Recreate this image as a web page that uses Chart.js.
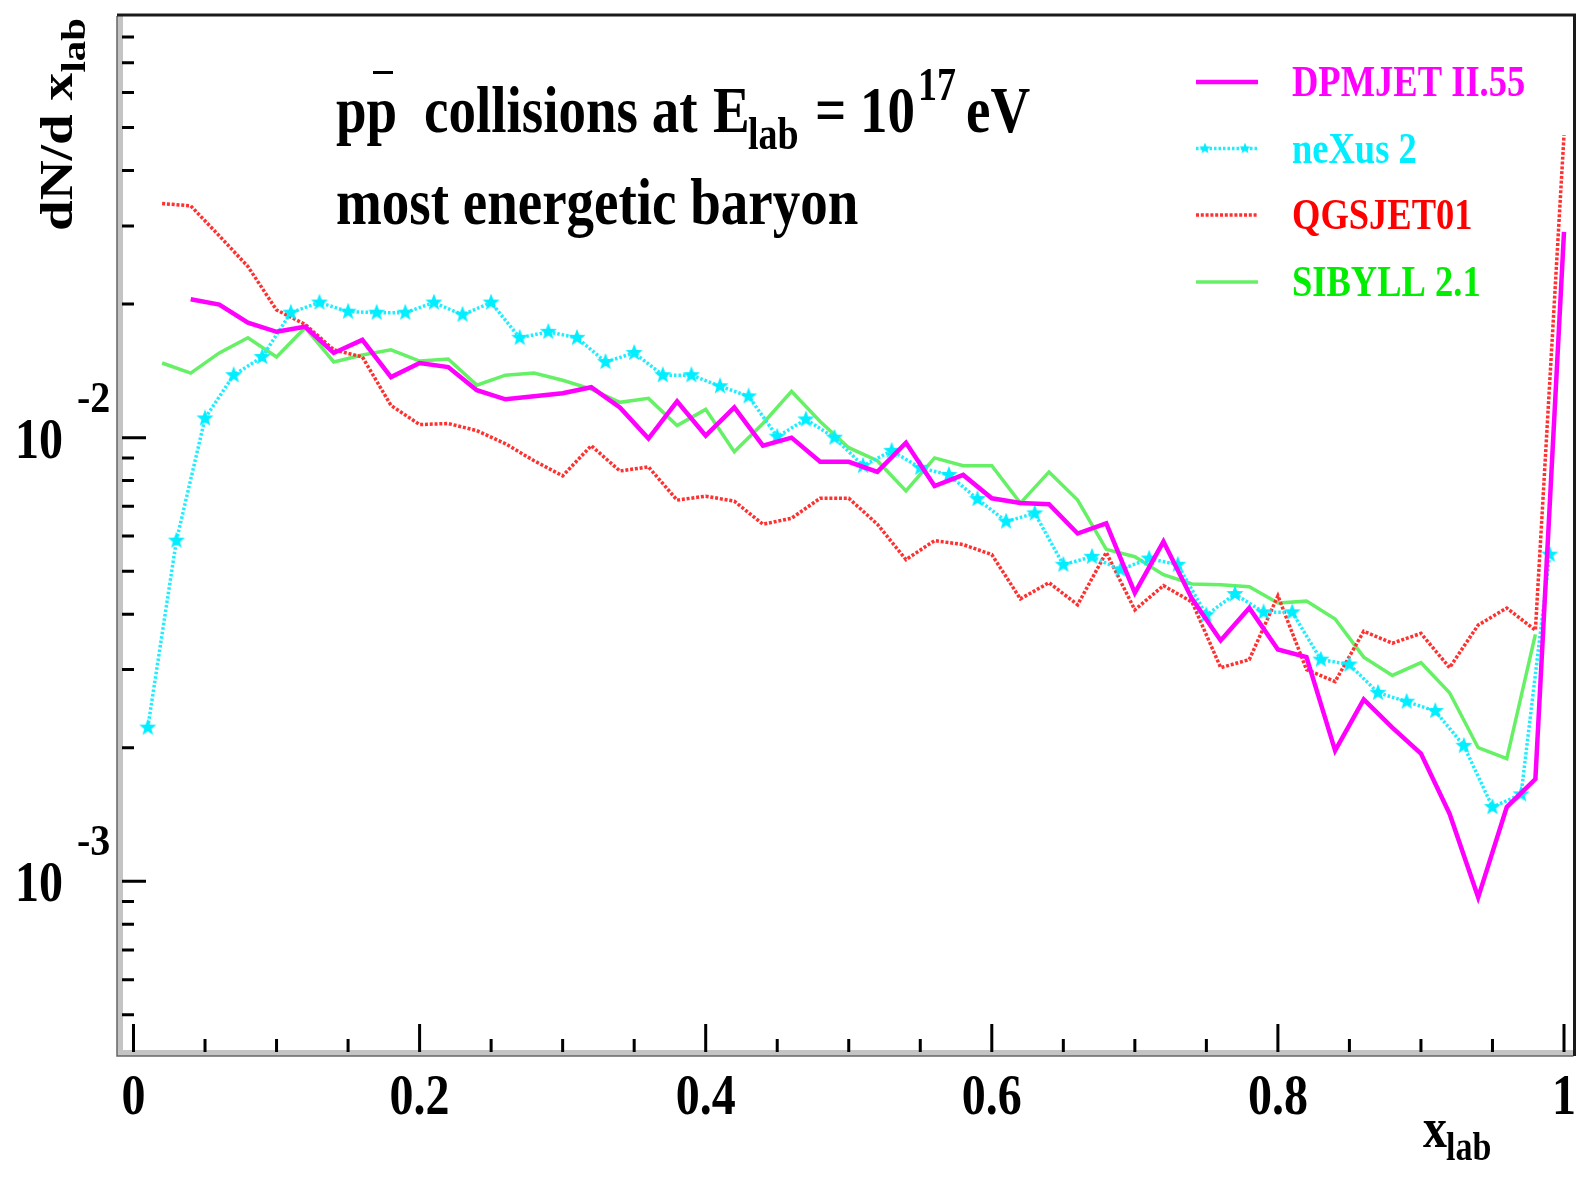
<!DOCTYPE html>
<html>
<head>
<meta charset="utf-8">
<script src="https://cdn.jsdelivr.net/npm/chart.js@4.4.1/dist/chart.umd.min.js"></script>
<style>
  html, body { margin: 0; padding: 0; background: #fff; }
  canvas { display: block; }
</style>
</head>
<body>
<canvas id="plot" width="1585" height="1177"></canvas>
<script>
// bin centres
var xBinsEven = [0.02, 0.04, 0.06, 0.08, 0.10, 0.12, 0.14, 0.16, 0.18, 0.20,
    0.22, 0.24, 0.26, 0.28, 0.30, 0.32, 0.34, 0.36, 0.38, 0.40,
    0.42, 0.44, 0.46, 0.48, 0.50, 0.52, 0.54, 0.56, 0.58, 0.60,
    0.62, 0.64, 0.66, 0.68, 0.70, 0.72, 0.74, 0.76, 0.78, 0.80,
    0.82, 0.84, 0.86, 0.88, 0.90, 0.92, 0.94, 0.96, 0.98, 1.00];
var xBinsOdd = [0.01, 0.03, 0.05, 0.07, 0.09, 0.11, 0.13, 0.15, 0.17, 0.19,
    0.21, 0.23, 0.25, 0.27, 0.29, 0.31, 0.33, 0.35, 0.37, 0.39,
    0.41, 0.43, 0.45, 0.47, 0.49, 0.51, 0.53, 0.55, 0.57, 0.59,
    0.61, 0.63, 0.65, 0.67, 0.69, 0.71, 0.73, 0.75, 0.77, 0.79,
    0.81, 0.83, 0.85, 0.87, 0.89, 0.91, 0.93, 0.95, 0.97, 0.99];

// dN/dx_lab per model
var dpmjet = [null, 0.0205, 0.01995, 0.01816, 0.01732, 0.01778, 0.01552, 0.01661, 0.01369, 0.01473,
    0.01442, 0.01279, 0.0122, 0.01239, 0.01259, 0.01299, 0.0117, 0.00995, 0.01207, 0.0101,
    0.0117, 0.00959, 0.0100, 0.00882, 0.00882, 0.00837, 0.00974, 0.00778, 0.00824, 0.0073,
    0.00712, 0.00708, 0.00608, 0.00641, 0.00447, 0.00583, 0.00433, 0.00349, 0.00413, 0.00333,
    0.0032, 0.00197, 0.00257, 0.00222, 0.00194, 0.00142, 0.00092, 0.00147, 0.0017, 0.0291];
var nexus = [0.00222, 0.00586, 0.01105, 0.01383, 0.0152, 0.01913, 0.02016, 0.01923, 0.01913, 0.01913,
    0.02016, 0.01893, 0.02016, 0.01679, 0.01732, 0.01679, 0.01481, 0.01552, 0.01383, 0.01383,
    0.01306, 0.01239, 0.01005, 0.01099, 0.0100, 0.00864, 0.00934, 0.00855, 0.00824, 0.00727,
    0.00647, 0.00675, 0.00517, 0.00539, 0.00504, 0.00534, 0.00517, 0.00398, 0.00444, 0.00404,
    0.00404, 0.00316, 0.00308, 0.00266, 0.00254, 0.00242, 0.00202, 0.00147, 0.00157, 0.00545];
var qgsjet = [0.0337, 0.0333, 0.0285, 0.0243, 0.0194, 0.0180, 0.01577, 0.0152, 0.01182, 0.0107,
    0.01076, 0.01037, 0.00969, 0.00887, 0.0082, 0.00959, 0.00841, 0.00859, 0.00723, 0.00738,
    0.00719, 0.00638, 0.00658, 0.0073, 0.0073, 0.00638, 0.00531, 0.00586, 0.00574, 0.00545,
    0.00433, 0.00471, 0.0042, 0.00551, 0.00409, 0.00464, 0.00426, 0.00303, 0.00316, 0.0044,
    0.0030, 0.00282, 0.00366, 0.00344, 0.00362, 0.00303, 0.00378, 0.00413, 0.00368, 0.0481];
var sibyll = [0.01473, 0.01398, 0.01552, 0.01679, 0.0152, 0.01769, 0.01481, 0.01536, 0.01577, 0.01488,
    0.01504, 0.01313, 0.01383, 0.01398, 0.01347, 0.01286, 0.01201, 0.01226, 0.01065, 0.01158,
    0.00929, 0.01076, 0.01272, 0.01087, 0.00949, 0.00887, 0.00758, 0.009, 0.00864, 0.00864,
    0.00712, 0.00837, 0.00723, 0.0056, 0.00539, 0.00491, 0.00468, 0.00466, 0.00461, 0.00424,
    0.00428, 0.0039, 0.0032, 0.00291, 0.00311, 0.00266, 0.002, 0.00189, 0.0036, null];

var modelNames = ["DPMJET II.55", "neXus 2", "QGSJET01", "SIBYLL 2.1"];

// axis ticks
var xMajorTicks = [0, 0.2, 0.4, 0.6, 0.8, 1];
var xTickLabels = ["0", "0.2", "0.4", "0.6", "0.8", "1"];
var xMinorTicks = [0.05, 0.1, 0.15, 0.25, 0.3, 0.35, 0.45, 0.5, 0.55, 0.65, 0.7, 0.75, 0.85, 0.9, 0.95];
var yMajorTicks = [0.01, 0.001];
var yTickExponents = ["-2", "-3"];
var yMinorTicks = [0.0005, 0.0006, 0.0007, 0.0008, 0.0009,
    0.002, 0.003, 0.004, 0.005, 0.006, 0.007, 0.008, 0.009,
    0.02, 0.03, 0.04, 0.05, 0.06, 0.07, 0.08];

var FONT = '"Liberation Serif", "Times New Roman", serif';
var STRETCH = 1.2;

function pairs(xs, ys) {
    return xs.map(function (x, i) { return { x: x, y: ys[i] }; });
}

function makeStar(size, color) {
    var c = document.createElement("canvas");
    c.width = size;
    c.height = size;
    var g = c.getContext("2d");
    var R = size / 2, r = R * 0.42;
    g.fillStyle = color;
    g.beginPath();
    for (var i = 0; i < 10; i++) {
        var rad = i % 2 === 0 ? R : r;
        var a = -Math.PI / 2 + i * Math.PI / 5;
        var px = R + rad * Math.cos(a), py = R + rad * Math.sin(a);
        if (i === 0) g.moveTo(px, py); else g.lineTo(px, py);
    }
    g.closePath();
    g.fill();
    return c;
}
var starBig = makeStar(18, "#00eeff");
var starSmall = makeStar(12, "#00eeff");

function text(ctx, s, x, y, size, color, align, sy) {
    ctx.save();
    ctx.translate(x, y);
    ctx.scale(1, sy === undefined ? STRETCH : sy);
    ctx.font = "bold " + size + "px " + FONT;
    ctx.fillStyle = color;
    ctx.textAlign = align || "left";
    ctx.textBaseline = "alphabetic";
    ctx.fillText(s, 0, 0);
    ctx.restore();
}

var rootStyle = {
    id: "rootStyle",
    beforeDraw: function (chart) {
        var ctx = chart.ctx;
        ctx.save();
        ctx.fillStyle = "#fff";
        ctx.fillRect(0, 0, chart.width, chart.height);
        ctx.restore();
    },
    afterDraw: function (chart) {
        var ctx = chart.ctx;
        var a = chart.chartArea;
        var xs = chart.scales.x, ys = chart.scales.y;
        ctx.save();

        // frame
        ctx.fillStyle = "#c4c4c4";
        ctx.fillRect(a.left - 4, a.top, 6, a.bottom - a.top + 2);
        ctx.fillRect(a.left - 4, a.bottom - 4, a.right - a.left + 4, 6);
        ctx.strokeStyle = "#666";
        ctx.lineWidth = 1.5;
        ctx.beginPath();
        ctx.moveTo(a.left - 4, a.top);
        ctx.lineTo(a.left - 4, a.bottom + 2);
        ctx.lineTo(a.right, a.bottom + 2);
        ctx.stroke();
        ctx.strokeStyle = "#1a1a1a";
        ctx.lineWidth = 3;
        ctx.beginPath();
        ctx.moveTo(a.left - 4, a.top - 1);
        ctx.lineTo(a.right + 1, a.top - 1);
        ctx.lineTo(a.right + 1, a.bottom + 2);
        ctx.stroke();

        // ticks
        ctx.strokeStyle = "#000";
        ctx.lineWidth = 3;
        ctx.beginPath();
        xMajorTicks.forEach(function (v) {
            var p = xs.getPixelForValue(v);
            ctx.moveTo(p, a.bottom - 2); ctx.lineTo(p, a.bottom - 30);
        });
        xMinorTicks.forEach(function (v) {
            var p = xs.getPixelForValue(v);
            ctx.moveTo(p, a.bottom - 2); ctx.lineTo(p, a.bottom - 15);
        });
        yMajorTicks.forEach(function (v) {
            var p = ys.getPixelForValue(v);
            ctx.moveTo(a.left + 1, p); ctx.lineTo(a.left + 25, p);
        });
        yMinorTicks.forEach(function (v) {
            var p = ys.getPixelForValue(v);
            ctx.moveTo(a.left + 1, p); ctx.lineTo(a.left + 13, p);
        });
        ctx.stroke();

        // tick labels
        xMajorTicks.forEach(function (v, i) {
            text(ctx, xTickLabels[i], xs.getPixelForValue(v), 1114, 48, "#000", "center");
        });
        yMajorTicks.forEach(function (v, i) {
            var p = ys.getPixelForValue(v);
            text(ctx, "10", 63, p + 20, 48, "#000", "right");
            text(ctx, yTickExponents[i], 77, p - 26, 40, "#000", "left", 1.12);
        });

        // axis titles
        text(ctx, "x", 1423, 1147, 48, "#000", "left");
        text(ctx, "lab", 1446, 1160, 34, "#000", "left");
        ctx.save();
        ctx.translate(72, 231);
        ctx.rotate(-Math.PI / 2);
        ctx.scale(STRETCH, 1);
        ctx.font = "bold 46px " + FONT;
        ctx.fillStyle = "#000";
        ctx.textAlign = "left";
        ctx.fillText("dN/d x", 0, 0);
        ctx.font = "bold 34px " + FONT;
        ctx.fillText("lab", 132, 13);
        ctx.restore();

        // labels in the pad
        text(ctx, "pp", 336, 132, 55, "#000");
        ctx.fillStyle = "#000";
        ctx.fillRect(373, 71, 20, 3);
        text(ctx, "collisions at", 424, 132, 55, "#000");
        text(ctx, "E", 713, 132, 55, "#000");
        text(ctx, "lab", 748, 149, 38, "#000");
        text(ctx, "= 10", 815, 132, 55, "#000");
        text(ctx, "17", 918, 100, 38, "#000");
        text(ctx, "eV", 966, 132, 55, "#000");
        text(ctx, "most energetic baryon", 336, 224, 55, "#000");

        // legend
        var rows = [82, 148.5, 215, 282];
        var textCols = ["#ff00ff", "#00eeff", "#ff0000", "#00ee00"];
        chart.data.datasets.forEach(function (ds, i) {
            var yy = rows[i];
            ctx.save();
            ctx.strokeStyle = ds.borderColor;
            ctx.lineWidth = ds.borderWidth;
            ctx.setLineDash(ds.borderDash || []);
            ctx.beginPath();
            ctx.moveTo(1196, yy); ctx.lineTo(1258, yy);
            ctx.stroke();
            ctx.restore();
            if (ds.pointStyle instanceof HTMLCanvasElement) {
                ctx.drawImage(starSmall, 1205 - 6, yy - 6);
                ctx.drawImage(starSmall, 1245 - 6, yy - 6);
            }
            text(ctx, ds.label, 1292, yy + 14, 36.5, textCols[i]);
        });
        ctx.restore();
    }
};

var ctx = document.getElementById("plot").getContext("2d");
var chart = new Chart(ctx, {
    type: "line",
    data: {
        datasets: [
            {
                label: modelNames[0],
                data: pairs(xBinsEven, dpmjet),
                borderColor: "#ff00ff",
                borderWidth: 4.5,
                pointRadius: 0,
            },
            {
                label: modelNames[1],
                data: pairs(xBinsOdd, nexus),
                borderColor: "#1ceeff",
                borderWidth: 3.5,
                borderDash: [2.5, 2],
                pointStyle: starBig,
                pointRadius: 8,
            },
            {
                label: modelNames[2],
                data: pairs(xBinsEven, qgsjet),
                borderColor: "#ff3030",
                borderWidth: 3.5,
                borderDash: [3, 1.8],
                pointRadius: 0,
            },
            {
                label: modelNames[3],
                data: pairs(xBinsEven, sibyll),
                borderColor: "#66f066",
                borderWidth: 3.5,
                pointRadius: 0,
            },
        ],
    },
    options: {
        responsive: false,
        animation: false,
        devicePixelRatio: 1,
        layout: { padding: { left: 121, top: 16, right: 11, bottom: 123 } },
        scales: {
            x: {
                type: "linear",
                display: false,
                bounds: "data",
                min: -0.008735,
                max: 1.00664,
            },
            y: {
                type: "logarithmic",
                display: false,
                bounds: "data",
                min: 0.000408,
                max: 0.0892,
            },
        },
        plugins: {
            legend: { display: false },
            tooltip: { enabled: false },
        },
    },
    plugins: [rootStyle],
});
</script>
</body>
</html>
